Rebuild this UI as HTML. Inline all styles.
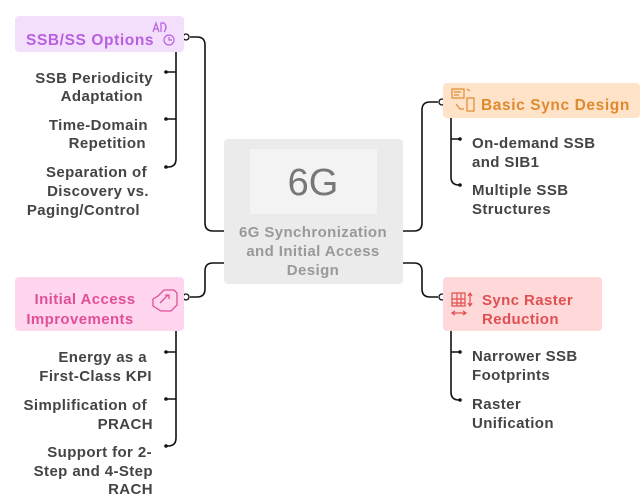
<!DOCTYPE html>
<html><head><meta charset="utf-8"><style>
html,body{margin:0;padding:0;background:#fff;width:644px;height:502px;overflow:hidden}
text{font-family:"Comic Sans MS","Liberation Sans",sans-serif;font-weight:bold;font-size:15px;letter-spacing:0.4px}
</style></head><body>
<svg width="644" height="502" xmlns="http://www.w3.org/2000/svg">
<g fill="none" stroke="#111" stroke-width="1.6">
<path d="M224 231 H213 Q205 231 205 223 V45 Q205 37 197 37 H190"/>
<path d="M224 263 H213 Q205 263 205 271 V289 Q205 297 197 297 H190"/>
<path d="M403 231 H414 Q422 231 422 223 V110 Q422 102 430 102 H438"/>
<path d="M403 263 H414 Q422 263 422 271 V289 Q422 297 430 297 H438"/>
<path d="M176 52 V159 Q176 167 168 167 H166 M176 72 H166 M176 119 H166"/>
<path d="M176 331 V438 Q176 446 168 446 H166 M176 352 H166 M176 399 H166"/>
<path d="M451 118 V177 Q451 185 459 185 H460 M451 139 H460"/>
<path d="M451 331 V392 Q451 400 459 400 H460 M451 352 H460"/>
</g>
<g fill="#111">
<circle cx="166" cy="72" r="1.8"/><circle cx="166" cy="119" r="1.8"/><circle cx="166" cy="167" r="1.8"/>
<circle cx="166" cy="352" r="1.8"/><circle cx="166" cy="399" r="1.8"/><circle cx="166" cy="446" r="1.8"/>
<circle cx="460" cy="139" r="1.8"/><circle cx="460" cy="185" r="1.8"/>
<circle cx="460" cy="352" r="1.8"/><circle cx="460" cy="400" r="1.8"/>
</g>
<g fill="#fff" stroke="#111" stroke-width="1.3">
<circle cx="186" cy="37" r="3"/><circle cx="186" cy="297" r="3"/>
<circle cx="442" cy="102" r="3"/><circle cx="442" cy="297" r="3"/>
</g>
<rect x="224" y="139" width="179" height="145" rx="4" fill="#ebebeb"/>
<rect x="250" y="149" width="127" height="65" fill="#f3f3f3"/>
<text x="313" y="195" text-anchor="middle" style="font-size:38px;font-weight:normal;letter-spacing:0" fill="#777">6G</text>
<g fill="#999" text-anchor="middle">
<text x="313" y="237">6G Synchronization</text>
<text x="313" y="256">and Initial Access</text>
<text x="313" y="275">Design</text>
</g>
<rect x="15" y="16" width="169" height="36" rx="4" fill="#f3dffc"/>
<text x="26" y="45" fill="#b85fe0" style="font-size:15.5px;letter-spacing:0.6px">SSB/SS Options</text>
<g stroke="#b85fe0" fill="none" stroke-width="1.2"><circle cx="169" cy="40" r="5"/><path d="M169 37 V40 H172 M153 32 L156 23 L159 32 M154 29 H158 M161 32 V23 H164 Q168 27 164 32"/></g>
<rect x="443" y="83" width="197" height="35" rx="4" fill="#ffe3c8"/>
<text x="481" y="110" fill="#e08a30" style="font-size:15.5px;letter-spacing:0.6px">Basic Sync Design</text>
<g stroke="#e08a30" fill="none" stroke-width="1.2"><rect x="452" y="89" width="12" height="9"/><rect x="467" y="98" width="7" height="13"/><path d="M454 92 H461 M454 95 H459 M456 104 L460 109 H464 M470 91 L467 89"/></g>
<rect x="443" y="277" width="159" height="54" rx="4" fill="#ffd9d9"/>
<g fill="#e05050" style="font-size:15.5px;letter-spacing:0.6px"><text x="482" y="305">Sync Raster</text><text x="482" y="324">Reduction</text></g>
<g stroke="#e05050" fill="none" stroke-width="1.2"><rect x="452" y="293" width="13" height="13"/><path d="M452 299 H465 M452 303 H465 M457 293 V306 M461 293 V306 M470 293 V306 M468 296 L470 293 L472 296 M468 303 L470 306 L472 303 M452 313 H466 M455 311 L452 313 L455 315 M463 311 L466 313 L463 315"/></g>
<rect x="15" y="277" width="169" height="54" rx="4" fill="#ffd6ee"/>
<g fill="#e0509a" style="font-size:15.5px;letter-spacing:0.6px" text-anchor="middle"><text x="85" y="304">Initial Access</text><text x="80" y="324">Improvements</text></g>
<g stroke="#e0509a" fill="none" stroke-width="1.3"><path d="M158 296 L164 290 H174 L177 293 V305 L171 311 H161 L153 306 V299 Z M160 303 L168 295 M165 295 H169 V299"/></g>
<g fill="#444" text-anchor="end">
<text x="153" y="83">SSB Periodicity</text><text x="143" y="101">Adaptation</text>
<text x="148" y="130">Time-Domain</text><text x="146" y="148">Repetition</text>
<text x="147" y="177">Separation of</text><text x="149" y="196">Discovery vs.</text><text x="140" y="215">Paging/Control</text>
<text x="147" y="362">Energy as a</text><text x="152" y="381">First-Class KPI</text>
<text x="147" y="410">Simplification of</text><text x="153" y="429">PRACH</text>
<text x="152" y="457">Support for 2-</text><text x="153" y="476">Step and 4-Step</text><text x="153" y="494">RACH</text>
</g>
<g fill="#444">
<text x="472" y="148">On-demand SSB</text><text x="472" y="167">and SIB1</text>
<text x="472" y="195">Multiple SSB</text><text x="472" y="214">Structures</text>
<text x="472" y="361">Narrower SSB</text><text x="472" y="380">Footprints</text>
<text x="472" y="409">Raster</text><text x="472" y="428">Unification</text>
</g>
</svg>
</body></html>
